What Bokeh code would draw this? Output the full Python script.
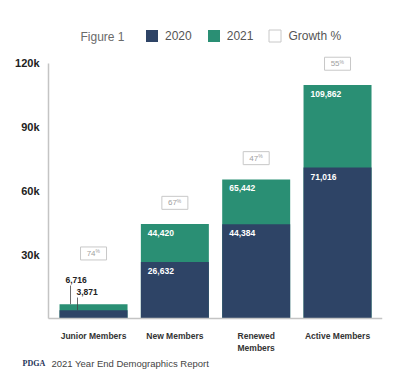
import numpy as np
from bokeh.plotting import figure
from bokeh.models import (Range1d, FixedTicker, NumeralTickFormatter, CustomJSTickFormatter,
                          Legend, LegendItem, Label, ColumnDataSource)
from bokeh.core.properties import value
from bokeh.embed import file_html
from bokeh.resources import INLINE

# ---- data ----
categories = ["Junior Members", "New Members", "Renewed\nMembers", "Active Members"]
members_2020 = [3871, 26632, 44384, 71016]
members_2021 = [6716, 44420, 65442, 109862]
growth_pct = [74, 67, 47, 55]
y_ticks = [30000, 60000, 90000, 120000]

NAVY = "#2e4466"
TEAL = "#2a8f74"
AXIS = "#c4c4c4"
SANS = "Liberation Sans"

idx = np.arange(len(categories))
v20 = np.array(members_2020)
v21 = np.array(members_2021)

X0 = -0.553  # left end of the plotted axes
p = figure(width=405, height=380, output_backend="svg", toolbar_location=None,
           x_range=Range1d(-1.021, 3.553), y_range=Range1d(-28228, 140200),
           min_border_left=10, min_border_right=23, min_border_top=20, min_border_bottom=2)
p.outline_line_color = None
p.xgrid.visible = False
p.ygrid.visible = False
p.background_fill_color = "white"

# bars (2021 behind, 2020 in front)
r21 = p.vbar(x=idx, top=v21, width=0.836, fill_color=TEAL, line_color=None)
r20 = p.vbar(x=idx, top=v20, width=0.836, fill_color=NAVY, line_color=None)

# labels inside bars
inside = v21 > 20000
src_in = ColumnDataSource(dict(
    x=idx[inside], y21=v21[inside], y20=v20[inside],
    t21=[f"{v:,}" for v in v21[inside]], t20=[f"{v:,}" for v in v20[inside]]))
for ycol, tcol in (("y21", "t21"), ("y20", "t20")):
    p.text(x="x", y=ycol, text=tcol, source=src_in, text_color="white",
           text_font=value(SANS), text_font_size="8.5px", text_font_style="bold",
           text_align="left", text_baseline="top", x_offset=-27, y_offset=6)

# labels outside short bars, with leader lines
out = ~inside
xo = idx[out]
line_x21 = xo - 0.283
line_x20 = xo - 0.197
top21 = v21[out] + 8800
top20 = v20[out] + 6000
p.segment(x0=line_x21, y0=v21[out], x1=line_x21, y1=top21, line_color="#444", line_width=0.8)
p.segment(x0=line_x20, y0=v20[out], x1=line_x20, y1=top20, line_color="#444", line_width=0.8)
p.text(x=line_x21, y=top21, text=[f"{v:,}" for v in v21[out]], text_color="#222",
       text_font=value(SANS), text_font_size="8.5px", text_font_style="bold",
       text_align="left", text_baseline="bottom", x_offset=-5, y_offset=-3)
p.text(x=line_x20, y=top20, text=[f"{v:,}" for v in v20[out]], text_color="#222",
       text_font=value(SANS), text_font_size="8.5px", text_font_style="bold",
       text_align="left", text_baseline="bottom", x_offset=-1, y_offset=-3)

# growth boxes
gy = np.maximum(v21 + 10000, 30600)
rg = p.rect(x=idx, y=gy, width=26, height=13, width_units="screen", height_units="screen",
            fill_color="white", line_color="#c8c8c8", line_width=1)
p.text(x=idx, y=gy, text=[str(g) for g in growth_pct], text_color="#a0a0a0",
       text_font=value(SANS), text_font_size="8px", text_align="right",
       text_baseline="middle", x_offset=2)
p.text(x=idx, y=gy, text=["%"] * len(growth_pct), text_color="#a0a0a0",
       text_font=value(SANS), text_font_size="5px", text_align="left",
       text_baseline="middle", x_offset=2, y_offset=-2)

# axes (fixed in place inside the frame)
p.yaxis.fixed_location = X0
p.yaxis.ticker = FixedTicker(ticks=y_ticks)
p.yaxis.formatter = NumeralTickFormatter(format="0a")
p.yaxis.bounds = (0, y_ticks[-1])
p.yaxis.axis_line_color = AXIS
p.yaxis.axis_line_width = 1.5
p.yaxis.major_tick_line_color = None
p.yaxis.minor_tick_line_color = None
p.yaxis.major_tick_in = 0
p.yaxis.major_tick_out = 0
p.yaxis.major_label_standoff = 9
p.yaxis.major_label_text_font = SANS
p.yaxis.major_label_text_font_size = "11px"
p.yaxis.major_label_text_font_style = "bold"
p.yaxis.major_label_text_color = "#222"

p.xaxis.fixed_location = 0
p.xaxis.ticker = FixedTicker(ticks=list(idx))
p.xaxis.formatter = CustomJSTickFormatter(args=dict(labels=categories),
                                          code="return labels[Math.round(tick)] || '';")
p.xaxis.bounds = (X0, 3.553)
p.xaxis.axis_line_color = AXIS
p.xaxis.axis_line_width = 1.5
p.xaxis.major_tick_line_color = None
p.xaxis.minor_tick_line_color = None
p.xaxis.major_tick_in = 0
p.xaxis.major_tick_out = 0
p.xaxis.major_label_standoff = 12
p.xaxis.major_label_text_font = SANS
p.xaxis.major_label_text_font_size = "8.5px"
p.xaxis.major_label_text_font_style = "bold"
p.xaxis.major_label_text_color = "#333"

# legend
legend = Legend(items=[LegendItem(label="2020", renderers=[r20]),
                       LegendItem(label="2021", renderers=[r21]),
                       LegendItem(label="Growth %", renderers=[rg])],
                orientation="horizontal", location=(134, 335),
                glyph_width=15, glyph_height=15, label_height=15, label_standoff=6,
                spacing=14, padding=0, margin=0, border_line_color=None,
                background_fill_alpha=0, label_text_font=SANS,
                label_text_font_size="12px", label_text_color="#555")
p.add_layout(legend, "center")

p.add_layout(Label(x=70, y=342, x_units="screen", y_units="screen", text="Figure 1",
                   text_font=SANS, text_font_size="12px", text_color="#6a6a6a",
                   text_baseline="middle"))

# footer
p.add_layout(Label(x=12, y=15, x_units="screen", y_units="screen", text="PDGA",
                   text_font="Liberation Serif", text_font_size="8px",
                   text_font_style="bold", text_color="#1f3559", text_baseline="middle"))
p.add_layout(Label(x=41, y=15, x_units="screen", y_units="screen",
                   text="2021 Year End Demographics Report",
                   text_font=SANS, text_font_size="9.5px", text_color="#444",
                   text_baseline="middle"))

open("out.html", "w").write(file_html(p, INLINE))
